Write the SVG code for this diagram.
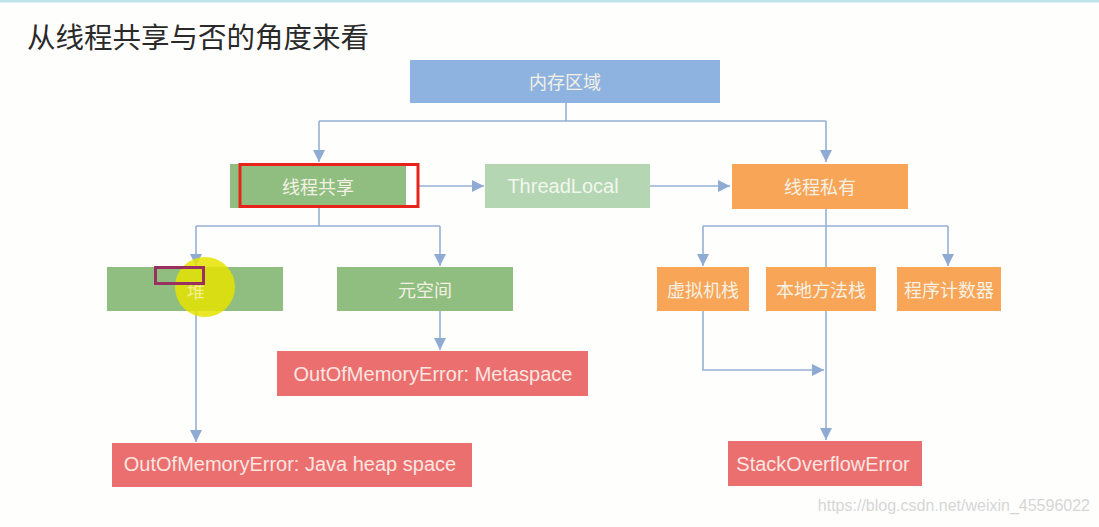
<svg xmlns="http://www.w3.org/2000/svg" width="1099" height="527" viewBox="0 0 1099 527">
<defs>
<style>
.t{font-family:"Noto Sans CJK SC","Liberation Sans",sans-serif;fill:#f4f1e4;text-anchor:middle;dominant-baseline:central;font-size:18px}
.e{font-family:"Liberation Sans","Noto Sans CJK SC",sans-serif;fill:#fbe6e0;text-anchor:middle;dominant-baseline:central;font-size:20px}
.c{fill:none;stroke:#95b0d6;stroke-width:1.6}
.g{fill:#8fbe80}
.o{fill:#f9a557}
.r{fill:#ec6f70}
</style>
<marker id="a" markerWidth="12" markerHeight="12" refX="10" refY="5" orient="auto" markerUnits="userSpaceOnUse" viewBox="0 0 10 10">
<path d="M0,0 L10,5 L0,10 z" fill="#8fabd4"/>
</marker>
</defs>
<rect x="0" y="0" width="1099" height="527" fill="#fefefd"/>
<rect x="0" y="0" width="1099" height="2.5" fill="#bfe1e9"/>
<text x="27" y="48" font-family="Noto Sans CJK SC,sans-serif" font-size="28.5" fill="#2a2a2a">从线程共享与否的角度来看</text>

<g id="connectors">
<path class="c" d="M566,103 V121 M319,121 H826"/>
<path class="c" d="M319,121 V162" marker-end="url(#a)"/>
<path class="c" d="M826,121 V162" marker-end="url(#a)"/>
<path class="c" d="M419,186 H484" marker-end="url(#a)"/>
<path class="c" d="M650,186 H730" marker-end="url(#a)"/>
<path class="c" d="M319,208 V226 M196,226 H440"/>
<path class="c" d="M196,226 V266" marker-end="url(#a)"/>
<path class="c" d="M440,226 V266" marker-end="url(#a)"/>
<path class="c" d="M440,311 V350" marker-end="url(#a)"/>
<path class="c" d="M196,311 V442" marker-end="url(#a)"/>
<path class="c" d="M826,209 V267 M703,226 H948"/>
<path class="c" d="M703,226 V266" marker-end="url(#a)"/>
<path class="c" d="M948,226 V266" marker-end="url(#a)"/>
<path class="c" d="M703,311 V370 H824" marker-end="url(#a)"/>
<path class="c" d="M826,311 V440" marker-end="url(#a)"/>
</g>

<g id="memory"><rect x="410" y="60" width="310" height="43" fill="#8fb3e1"/><text class="t" x="565" y="81">内存区域</text></g>
<g id="shared"><rect class="g" x="230" y="164" width="176" height="44"/><text class="t" x="318" y="186">线程共享</text><rect x="240" y="164.5" width="178" height="42" fill="none" stroke="#e8231c" stroke-width="3"/></g>
<g id="threadlocal"><rect x="485" y="164" width="165" height="44" fill="#b4d6b3"/><text class="e" x="563" y="186" style="fill:#f2f6ee">ThreadLocal</text></g>
<g id="private"><rect class="o" x="732" y="164" width="176" height="45"/><text class="t" x="820" y="186">线程私有</text></g>
<g id="heap"><rect class="g" x="107" y="267" width="176" height="44"/><circle cx="205" cy="287" r="30" fill="#e6e300" opacity="0.85"/><text class="t" x="196" y="290" font-size="15" style="fill:#f2ef90">堆</text><rect x="155.5" y="267.5" width="48" height="16" fill="none" stroke="#9a3060" stroke-width="3"/></g>
<g id="metaspace"><rect class="g" x="337" y="267" width="176" height="44"/><text class="t" x="425" y="289">元空间</text></g>
<g id="vmstack"><rect class="o" x="657" y="267" width="92" height="44"/><text class="t" x="703" y="289">虚拟机栈</text></g>
<g id="nativestack"><rect class="o" x="766" y="267" width="110" height="44"/><text class="t" x="821" y="289">本地方法栈</text></g>
<g id="pc"><rect class="o" x="897" y="267" width="104" height="44"/><text class="t" x="949" y="289">程序计数器</text></g>
<g id="oommeta"><rect class="r" x="277" y="351" width="311" height="45"/><text class="e" x="433" y="374">OutOfMemoryError: Metaspace</text></g>
<g id="oomheap"><rect class="r" x="112" y="443" width="360" height="44"/><text class="e" x="290" y="464">OutOfMemoryError: Java heap space</text></g>
<g id="sof"><rect class="r" x="728" y="441" width="194" height="45"/><text class="e" x="823" y="464">StackOverflowError</text></g>
<text x="1090" y="511" text-anchor="end" font-family="Liberation Sans,sans-serif" font-size="16" fill="#d6d6d6">https://blog.csdn.net/weixin_45596022</text>
</svg>
